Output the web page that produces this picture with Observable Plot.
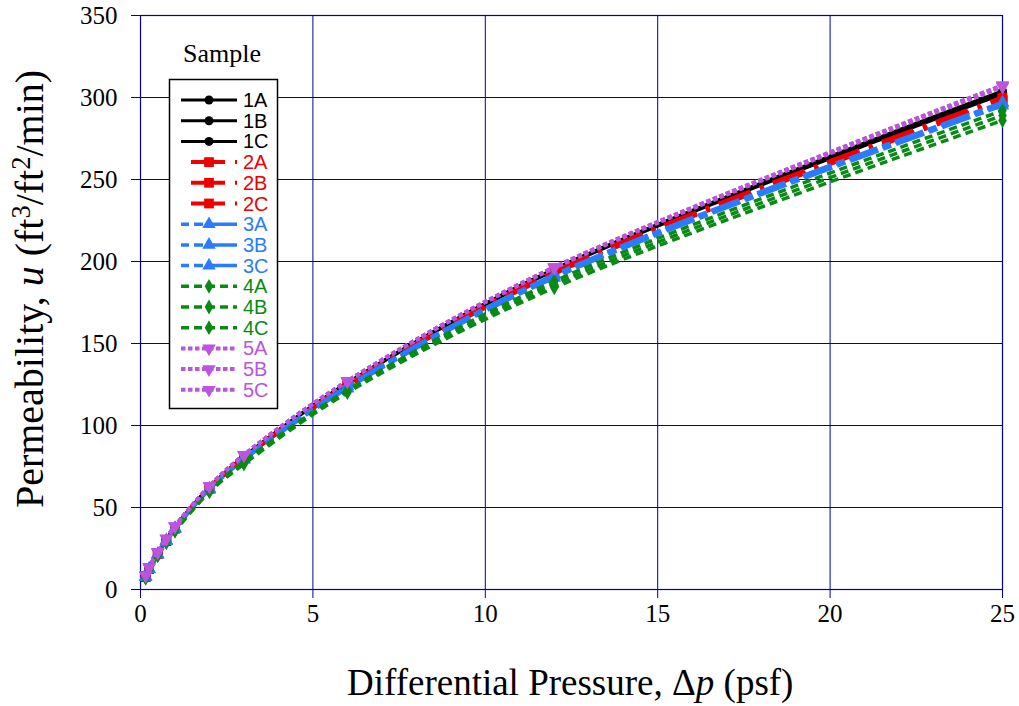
<!DOCTYPE html>
<html><head><meta charset="utf-8">
<script src="https://cdn.jsdelivr.net/npm/d3@7"></script>
<script src="https://cdn.jsdelivr.net/npm/@observablehq/plot@0.6"></script>
<style>
body{margin:0;background:#fff;}
#wrap{position:relative;width:1019px;height:706px;overflow:hidden;}
#wrap svg.plot text{fill:#000;}
.axlabel{position:absolute;font-family:"Liberation Serif","Times New Roman",serif;font-size:37px;color:#000;white-space:nowrap;line-height:1.1;}
.axlabel sup{font-size:0.66em;line-height:0;vertical-align:0.5em;}
#ylab{font-size:40px;}
</style></head><body><div id="wrap"></div>
<script>
// ---- data ----
const pressure = [0.15, 0.25, 0.5, 0.75, 1, 2, 3, 6, 12, 25];
const sampleNames = ["1A","1B","1C","2A","2B","2C","3A","3B","3C","4A","4B","4C","5A","5B","5C"];
const u1A = [8, 13, 22, 30.5, 38, 62.5, 81, 126, 195, 303];
const u1B = [8, 13, 22, 30.5, 38, 62.5, 81, 126, 195.5, 304];
const u1C = [8, 13, 22, 30, 38, 62, 80.5, 125.5, 194.5, 302];
const u2A = [8, 13, 22, 30, 37.5, 62, 80.5, 125, 194, 300];
const u2B = [8, 12.5, 22, 30, 37.5, 61.5, 80, 124.5, 193, 298.5];
const u2C = [7.5, 12.5, 21.5, 29.5, 37, 61.5, 80, 124, 192.5, 298];
const u3A = [8, 12.5, 21.5, 30, 37.5, 61.5, 80, 124, 192, 297];
const u3B = [7.5, 12.5, 21.5, 29.5, 37, 61, 79.5, 123, 191, 296.5];
const u3C = [7.5, 12.5, 21.5, 29.5, 37, 61, 79, 122.5, 190, 295];
const u4A = [7.5, 12, 21, 29.5, 36.5, 60.5, 78, 121.5, 188, 292];
const u4B = [7, 12, 21, 29, 36, 60, 77.5, 121, 186, 289];
const u4C = [7, 12, 20.5, 28.5, 35.5, 59.5, 76.5, 120, 184, 286];
const u5A = [8.5, 13.5, 23, 31, 38.5, 63, 82, 127, 196.5, 307];
const u5B = [8.5, 13.5, 23, 31, 38.5, 63, 82, 127, 196.5, 307.5];
const u5C = [8.5, 13.5, 22.5, 31, 38.5, 63, 82, 127, 196, 306.5];
const xTicks = [0, 5, 10, 15, 20, 25];
const yTicks = [0, 50, 100, 150, 200, 250, 300, 350];

const seriesValues = [u1A,u1B,u1C,u2A,u2B,u2C,u3A,u3B,u3C,u4A,u4B,u4C,u5A,u5B,u5C];

// ---- styles per group ----
const triDown = {
  draw(ctx, size) {
    const a = Math.sqrt(size / (Math.sqrt(3) / 4));
    const h = a * Math.sqrt(3) / 2;
    ctx.moveTo(-a / 2, -h / 3);
    ctx.lineTo(a / 2, -h / 3);
    ctx.lineTo(0, 2 * h / 3);
    ctx.closePath();
  }
};
const groupStyle = {
  "1": {color: "#000000", dash: null, off: 0, width: 3, symbol: d3.symbolCircle, r: 4.5},
  "2": {color: "#ee0000", dash: "34,10,4,10", off: 48, width: 4, symbol: d3.symbolSquare, r: 5.5},
  "3": {color: "#2a7bff", dash: "30,5,9,5", off: 22, width: 3.5, symbol: d3.symbolTriangle, r: 5},
  "4": {color: "#088a14", dash: "8,5", off: 0, width: 3.5, symbol: d3.symbolDiamond, r: 4.5},
  "5": {color: "#bb55dd", dash: "4.5,2.5", off: 0, width: 4, symbol: triDown, r: 5}
};

const rows = [];
sampleNames.forEach((s, i) => {
  seriesValues[i].forEach((v, j) => rows.push({sample: s, group: s[0], p: pressure[j], u: v}));
});

const grid = "#0000aa";
const marks = [
  Plot.gridX(xTicks, {stroke: grid, strokeOpacity: 1, strokeWidth: 1}),
  Plot.gridY(yTicks, {stroke: grid, strokeOpacity: 1, strokeWidth: 1}),
  Plot.frame({stroke: grid, strokeWidth: 1.2}),
  Plot.axisX({ticks: xTicks, tickSize: 9, tickPadding: 6, stroke: grid, fontSize: 25, label: null}),
  Plot.axisY({ticks: yTicks, tickSize: 9, tickPadding: 14, stroke: grid, fontSize: 25, label: null})
];
sampleNames.forEach(s => {
  const st = groupStyle[s[0]];
  const d = rows.filter(r => r.sample === s);
  marks.push(Plot.line(d, {x: "p", y: "u", stroke: st.color, strokeWidth: st.width,
    strokeDasharray: st.dash, curve: "catmull-rom", strokeLinecap: "butt"}));
  marks.push(Plot.dot(d, {x: "p", y: "u", fill: st.color, stroke: "none", symbol: st.symbol, r: st.r}));
});

const chart = Plot.plot({
  width: 1019, height: 706,
  marginLeft: 140, marginRight: 17, marginTop: 15, marginBottom: 117,
  style: {fontFamily: "'Liberation Serif','Times New Roman',serif", background: "#fff", overflow: "visible"},
  x: {domain: [0, 25]},
  y: {domain: [0, 350]},
  marks
});
const wrap = document.getElementById("wrap");
wrap.appendChild(chart);

// ---- axis labels ----
const xl = document.createElement("div");
xl.className = "axlabel";
xl.innerHTML = "Differential Pressure, \u0394<i>p</i> (psf)";
wrap.appendChild(xl);
xl.style.left = (570 - xl.offsetWidth / 2) + "px";
xl.style.top = (683 - xl.offsetHeight / 2) + "px";

const yl = document.createElement("div");
yl.className = "axlabel";
yl.id = "ylab";
yl.innerHTML = "Permeability, <i>u</i> (ft<sup>3</sup>/ft<sup>2</sup>/min)";
wrap.appendChild(yl);
yl.style.left = (30 - yl.offsetWidth / 2) + "px";
yl.style.top = (289 - yl.offsetHeight / 2) + "px";
yl.style.transform = "rotate(-90deg)";

// ---- legend ----
const lg = d3.select(wrap).append("svg")
  .style("position", "absolute").style("left", "0px").style("top", "0px")
  .attr("width", 1019).attr("height", 706).style("pointer-events", "none");
lg.append("text").attr("x", 222).attr("y", 62).attr("text-anchor", "middle")
  .attr("font-family", "'Liberation Serif','Times New Roman',serif").attr("font-size", 26).text("Sample");
lg.append("rect").attr("x", 169.5).attr("y", 79.5).attr("width", 108).attr("height", 329)
  .attr("fill", "#fff").attr("stroke", "#000").attr("stroke-width", 1.5);
sampleNames.forEach((s, i) => {
  const st = groupStyle[s[0]];
  const y = 100 + i * 20.7;
  lg.append("line").attr("x1", 181).attr("x2", 237).attr("y1", y).attr("y2", y)
    .attr("stroke", st.color).attr("stroke-width", st.width)
    .attr("stroke-dasharray", st.dash).attr("stroke-dashoffset", st.off);
  lg.append("path").attr("transform", `translate(209,${y})`)
    .attr("d", d3.symbol(st.symbol, Math.PI * st.r * st.r)())
    .attr("fill", st.color);
  lg.append("text").attr("x", 243).attr("y", y + 7)
    .attr("font-family", "'Liberation Sans',Arial,sans-serif").attr("font-size", 20)
    .attr("fill", st.color).text(s);
});
</script></body></html>
